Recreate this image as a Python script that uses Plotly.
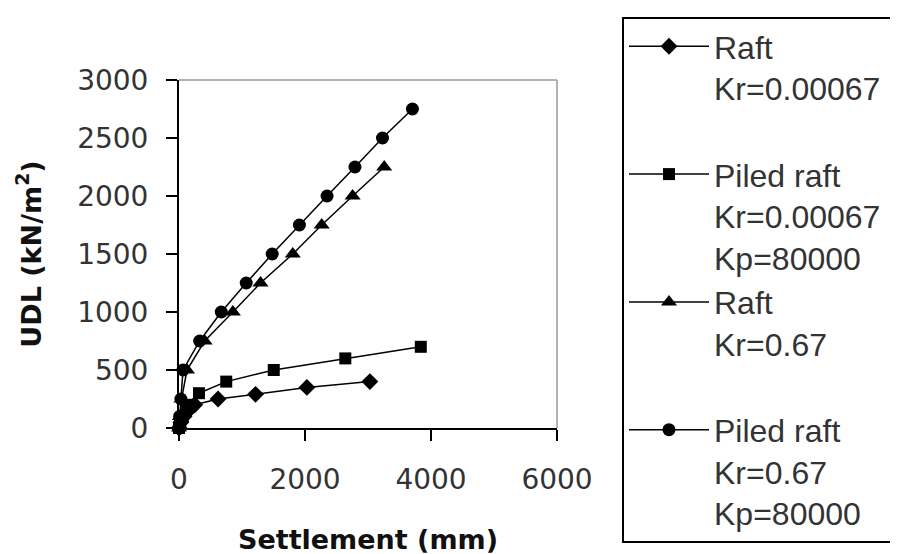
import plotly.graph_objects as go

# Raft Kr=0.00067 (diamonds)
raft1_x = [0, 30, 80, 150, 250, 620, 1215, 2030, 3030]
raft1_y = [0, 50, 100, 150, 200, 250, 290, 350, 400]
# Piled raft Kr=0.00067 Kp=80000 (squares)
piled1_x = [0, 20, 60, 130, 317, 750, 1504, 2640, 3838]
piled1_y = [0, 50, 100, 200, 300, 400, 500, 600, 700]
# Raft Kr=0.67 (triangles)
raft2_x = [0, 15, 40, 127, 407, 855, 1294, 1806, 2265, 2756, 3257]
raft2_y = [0, 100, 250, 500, 750, 1000, 1250, 1500, 1750, 2000, 2250]
# Piled raft Kr=0.67 Kp=80000 (circles)
piled2_x = [0, 10, 30, 64, 328, 671, 1067, 1479, 1911, 2350, 2793, 3230, 3705]
piled2_y = [0, 100, 250, 500, 750, 1000, 1250, 1500, 1750, 2000, 2250, 2500, 2750]

names = [
    "Raft<br>Kr=0.00067\u00a0<br>\u00a0",
    "Piled raft<br>Kr=0.00067<br>Kp=80000",
    "Raft<br>Kr=0.67<br>\u00a0",
    "Piled raft<br>Kr=0.67<br>Kp=80000",
]
x_ticks = [0, 2000, 4000, 6000]
y_ticks = [0, 500, 1000, 1500, 2000, 2500, 3000]

series = [
    (raft1_x, raft1_y, "diamond", 13),
    (piled1_x, piled1_y, "square", 12),
    (raft2_x, raft2_y, "triangle-up", 14),
    (piled2_x, piled2_y, "circle", 13),
]

fig = go.Figure()
for (xs, ys, sym, sz), nm in zip(series, names):
    fig.add_trace(go.Scatter(
        x=xs, y=ys, name=nm, mode="lines+markers",
        line=dict(color="black", width=1.5),
        marker=dict(symbol=sym, size=sz, color="black"),
        cliponaxis=False,
    ))

tick_font = dict(family="DejaVu Sans", size=28, color="#333")
title_font = dict(family="DejaVu Sans", size=27, color="#111")

fig.update_layout(
    width=898, height=554,
    margin=dict(l=171, r=349, t=72, b=134, autoexpand=False),
    paper_bgcolor="white", plot_bgcolor="white",
    showlegend=True,
    legend=dict(
        x=(614 - 171) / 378, y=(420 - 9) / 348,
        xanchor="left", yanchor="top",
        bordercolor="black", borderwidth=2,
        bgcolor="white",
        font=dict(family="Liberation Sans", size=32, color="#333"),
        valign="top",
        itemwidth=80,
        tracegroupgap=0,
        maxheight=600,
    ),
    xaxis=dict(
        range=[0, 6000], tickvals=x_ticks, ticktext=[str(v) for v in x_ticks],
        showgrid=False, zeroline=False,
        showline=True, linecolor="black", linewidth=2,
        ticks="outside", ticklen=11, tickwidth=2, tickcolor="black",
        tickfont=tick_font, ticklabelstandoff=14,
        title=dict(text="<b>Settlement (mm)</b>", font=title_font, standoff=36),
        automargin=False,
    ),
    yaxis=dict(
        range=[0, 3000], tickvals=y_ticks, ticktext=[str(v) for v in y_ticks],
        showgrid=False, zeroline=False,
        showline=True, linecolor="black", linewidth=2,
        ticks="outside", ticklen=11, tickwidth=2, tickcolor="black",
        tickfont=tick_font, ticklabelstandoff=12,
        title=dict(text="<b>UDL (kN/m<sup>2</sup>)</b>", font=title_font, standoff=28),
        automargin=False,
    ),
    shapes=[
        dict(type="line", xref="paper", yref="paper", x0=0, x1=1, y0=1, y1=1,
             line=dict(color="#999", width=1.5)),
        dict(type="line", xref="paper", yref="paper", x0=1, x1=1, y0=0, y1=1,
             line=dict(color="#999", width=1.5)),
    ],
)

fig.write_html("out.html")
